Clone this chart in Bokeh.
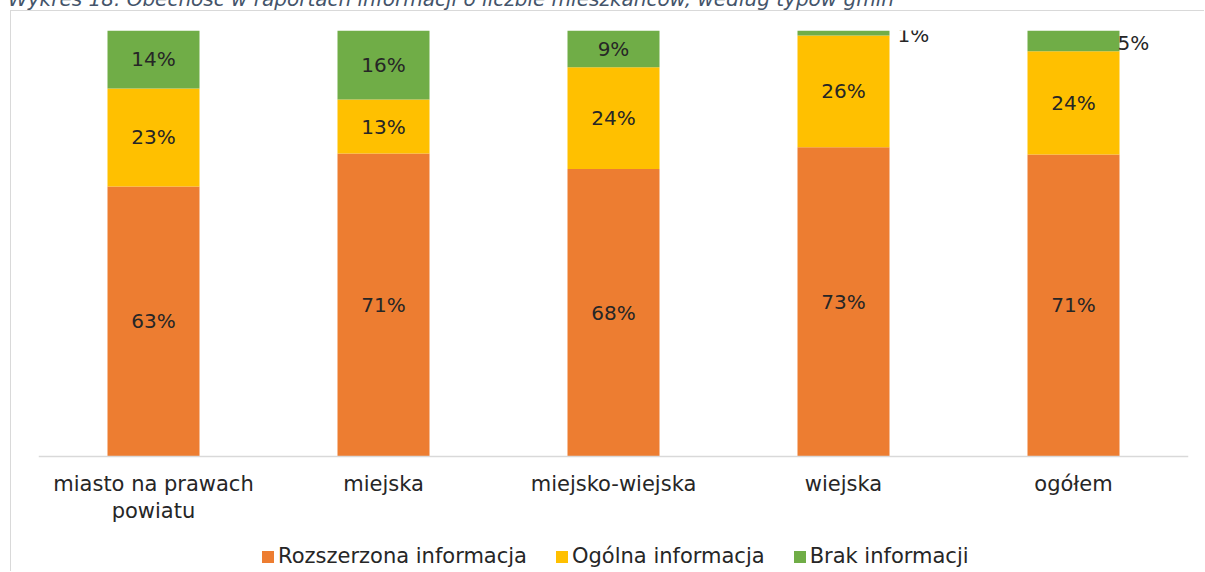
from bokeh.plotting import figure
from bokeh.models import ColumnDataSource, FactorRange, Legend, LegendItem, Span, Range1d, Div
from bokeh.layouts import column
from bokeh.core.properties import value
from bokeh.embed import file_html
from bokeh.resources import INLINE

title_text = "Wykres 18. Obecność w raportach informacji o liczbie mieszkańców, według typów gmin"
categories = ["miasto na prawach powiatu", "miejska", "miejsko-wiejska", "wiejska", "ogółem"]
category_labels = ["miasto na prawach\npowiatu", "miejska", "miejsko-wiejska", "wiejska", "ogółem"]
series_names = ["Rozszerzona informacja", "Ogólna informacja", "Brak informacji"]
rozszerzona = [63.4, 71.1, 67.5, 72.6, 70.9]
ogolna = [23.0, 12.7, 23.9, 26.2, 24.2]
brak = [13.6, 16.2, 8.6, 1.2, 4.9]
colors = ["#ED7D31", "#FFC000", "#70AD47"]

FONT = "DejaVu Sans"
TEXT_COLOR = "#262626"

W, H = 1194, 561
TOP, LEFT, RIGHT = 19, 27, 17
ZERO_Y = 445               # canvas y of the 0% baseline
px_per_unit = (ZERO_Y - TOP) / 100.0
y_start = -(H - ZERO_Y) / px_per_unit

src = ColumnDataSource(dict(cat=categories, r=rozszerzona, o=ogolna, b=brak))

p = figure(
    x_range=FactorRange(*categories, range_padding=0),
    y_range=Range1d(y_start, 100),
    width=W, height=H,
    output_backend="svg", toolbar_location=None,
    x_axis_location=None, y_axis_location=None,
    min_border_left=LEFT, min_border_right=RIGHT, min_border_top=TOP, min_border_bottom=0,
    margin=0,
    styles={"margin-left": "10px",
            "border-left": "1px solid #d9d9d9", "border-top": "1px solid #d9d9d9"},
)
p.outline_line_color = None
p.grid.visible = False

renderers = p.vbar_stack(["r", "o", "b"], x="cat", width=0.4, fill_color=colors,
                         line_color=None, source=src)

# baseline (category axis line)
p.add_layout(Span(location=0, dimension="width", line_color="#d9d9d9", line_width=1.5))

# category labels
p.text(x=categories, y=[0] * len(categories), text=category_labels, y_offset=15,
       text_align="center", text_baseline="top", text_line_height=1.15,
       text_font=value(FONT), text_font_size="21px", text_color=TEXT_COLOR)

# data labels
series = [rozszerzona, ogolna, brak]
in_x, in_y, in_t = [], [], []
out_x, out_y, out_t = [], [], []
for i, c in enumerate(categories):
    bottom = 0.0
    for s in series:
        v = s[i]
        mid = bottom + v / 2
        lab = f"{round(v)}%"
        if v < 6:
            out_x.append(c); out_y.append(mid); out_t.append(lab)
        else:
            in_x.append(c); in_y.append(mid); in_t.append(lab)
        bottom += v
outside_offsets = [54, 44][:len(out_x)]

p.text(x=in_x, y=in_y, text=in_t, text_align="center", text_baseline="middle",
       text_font=value(FONT), text_font_size="20px", text_color=TEXT_COLOR)
p.text(x=out_x, y=out_y, text=out_t, x_offset=outside_offsets, y_offset=2,
       text_align="left", text_baseline="middle",
       text_font=value(FONT), text_font_size="20px", text_color=TEXT_COLOR)

legend = Legend(
    items=[LegendItem(label=n, renderers=[r]) for n, r in zip(series_names, renderers)],
    orientation="horizontal", location=(222, 4),
    label_text_font=FONT, label_text_font_size="21px", label_text_color=TEXT_COLOR,
    glyph_width=15, glyph_height=15, label_standoff=3, spacing=27,
    padding=0, margin=0, border_line_color=None, background_fill_alpha=0,
)
p.add_layout(legend, "center")

title = Div(
    text=('<div style="position:relative; top:-11px; left:8px; white-space:nowrap; '
          'font-family:\'DejaVu Sans\'; font-style:italic; font-size:20px; line-height:20px; '
          'color:#44546A;">' + title_text + '</div>'),
    width=1205, height=10, margin=0,
    styles={"overflow": "hidden"},
)

layout = column(title, p, spacing=0, margin=0)
open("out.html", "w").write(file_html(layout, INLINE))
